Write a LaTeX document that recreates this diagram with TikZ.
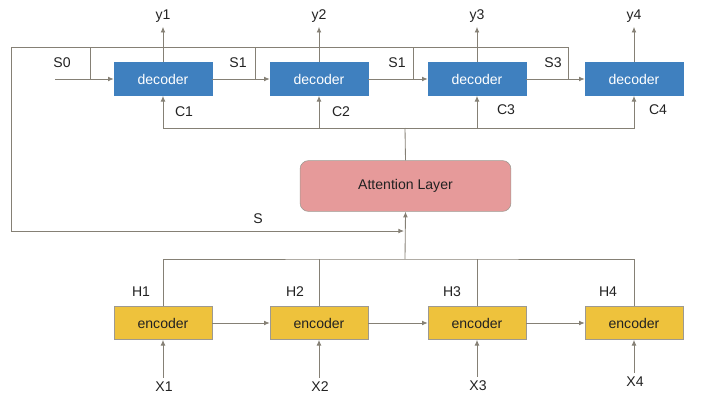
\documentclass[tikz,border=0pt]{standalone}
\usepackage{fontspec}
\setmainfont{Liberation Sans}
\usepackage{xcolor}
\usepackage{tikz}
\usetikzlibrary{arrows.meta, positioning, calc}
\definecolor{decblue}{HTML}{3F80BF}
\definecolor{encyellow}{HTML}{EEC23C}
\definecolor{attpink}{HTML}{E69A9A}
\definecolor{wiregray}{HTML}{858075}
\definecolor{inktext}{HTML}{222222}

\begin{document}
\begin{tikzpicture}[
  x=0.025cm, y=-0.025cm,
  font=\fontsize{10pt}{12pt}\selectfont,
  block/.style={
    rectangle,
    draw=#1,
    fill=#1,
    minimum width=2.45cm,
    minimum height=0.83cm,
    inner sep=0pt
  },
  dec/.style={block=decblue, text=white},
  enc/.style={block=encyellow, draw=wiregray!80, text=inktext},
  att/.style={
    rectangle,
    rounded corners=6pt,
    draw=wiregray!80,
    fill=attpink,
    minimum width=5.27cm,
    minimum height=1.27cm,
    text=inktext
  },
  lbl/.style={text=inktext, inner sep=3pt},
  wire/.style={draw=wiregray, line width=0.6pt},
  arr/.style={wire, -{Latex[length=4pt,width=3.4pt]}}
]
  \useasboundingbox (0,0) rectangle (702,402);

  % decoders and outputs
  \node[dec] (dec1) at (163,79) {decoder};
  \node[dec] (dec2) at (319,79) {decoder};
  \node[dec] (dec3) at (477,79) {decoder};
  \node[dec] (dec4) at (634,79) {decoder};

  \node[lbl] (y1) at (163,16) {y1};
  \node[lbl] (y2) at (319,16) {y2};
  \node[lbl] (y3) at (477,16) {y3};
  \node[lbl] (y4) at (634,16) {y4};

  \draw[arr] (dec1.north) -- (y1.south);
  \draw[arr] (dec2.north) -- (y2.south);
  \draw[arr] (dec3.north) -- (y3.south);
  \draw[arr] (dec4.north) -- (y4.south);

  % state chain
  \coordinate (s0) at (55,79);
  \coordinate (j1) at (90,79);
  \coordinate (j2) at (255,79);
  \coordinate (j3) at (413,79);
  \coordinate (j4) at (568,79);
  \coordinate (topL) at (11,47);
  \coordinate (sIn) at (404,231);

  \draw[arr] (s0) -- (dec1.west);
  \draw[arr] (dec1.east) -- (dec2.west);
  \draw[arr] (dec2.east) -- (dec3.west);
  \draw[arr] (dec3.east) -- (dec4.west);

  \draw[arr] (j4) |- (topL) |- (sIn);
  \draw[wire] (j1) -- (j1 |- topL);
  \draw[wire] (j2) -- (j2 |- topL);
  \draw[wire] (j3) -- (j3 |- topL);

  \node[lbl] (lS0) at (62,63) {S0};
  \node[lbl] (lS1) at (238,63) {S1};
  \node[lbl] (lS2) at (397,63) {S1};
  \node[lbl] (lS3) at (553,63) {S3};
  \node[lbl] (lS) at (258,219) {S};

  % attention and context bus
  \node[att] (att) at (405.5,186) {Attention Layer};
  \coordinate (cBus) at (405,128);

  \draw[wire] (att.north) -- (cBus);
  \draw[arr] (cBus) -| (dec1.south);
  \draw[arr] (cBus) -| (dec4.south);
  \draw[arr] (dec2.south |- cBus) -- (dec2.south);
  \draw[arr] (dec3.south |- cBus) -- (dec3.south);

  \node[lbl] (lC1) at (184,112) {C1};
  \node[lbl] (lC2) at (341,112) {C2};
  \node[lbl] (lC3) at (506,110) {C3};
  \node[lbl] (lC4) at (658,110) {C4};

  % encoders
  \node[enc] (enc1) at (163,323) {encoder};
  \node[enc] (enc2) at (319,323) {encoder};
  \node[enc] (enc3) at (477,323) {encoder};
  \node[enc] (enc4) at (634,323) {encoder};

  \node[lbl] (x1) at (164,387) {X1};
  \node[lbl] (x2) at (320,387) {X2};
  \node[lbl] (x3) at (478,386) {X3};
  \node[lbl] (x4) at (635,382) {X4};

  \draw[arr] (x1.north -| enc1.south) -- (enc1.south);
  \draw[arr] (x2.north -| enc2.south) -- (enc2.south);
  \draw[arr] (x3.north -| enc3.south) -- (enc3.south);
  \draw[arr] (x4.north -| enc4.south) -- (enc4.south);

  \draw[arr] (enc1.east) -- (enc2.west);
  \draw[arr] (enc2.east) -- (enc3.west);
  \draw[arr] (enc3.east) -- (enc4.west);

  \coordinate (hBus) at (405,259);
  \draw[wire] (enc1.north) |- (hBus) -| (enc4.north);
  \draw[wire] (enc2.north) -- (enc2.north |- hBus);
  \draw[wire] (enc3.north) -- (enc3.north |- hBus);
  \draw[arr] (hBus) -- (att.south);

  \node[lbl] (h1) at (141,292) {H1};
  \node[lbl] (h2) at (295,292) {H2};
  \node[lbl] (h3) at (452,292) {H3};
  \node[lbl] (h4) at (608,292) {H4};
\end{tikzpicture}
\end{document}
